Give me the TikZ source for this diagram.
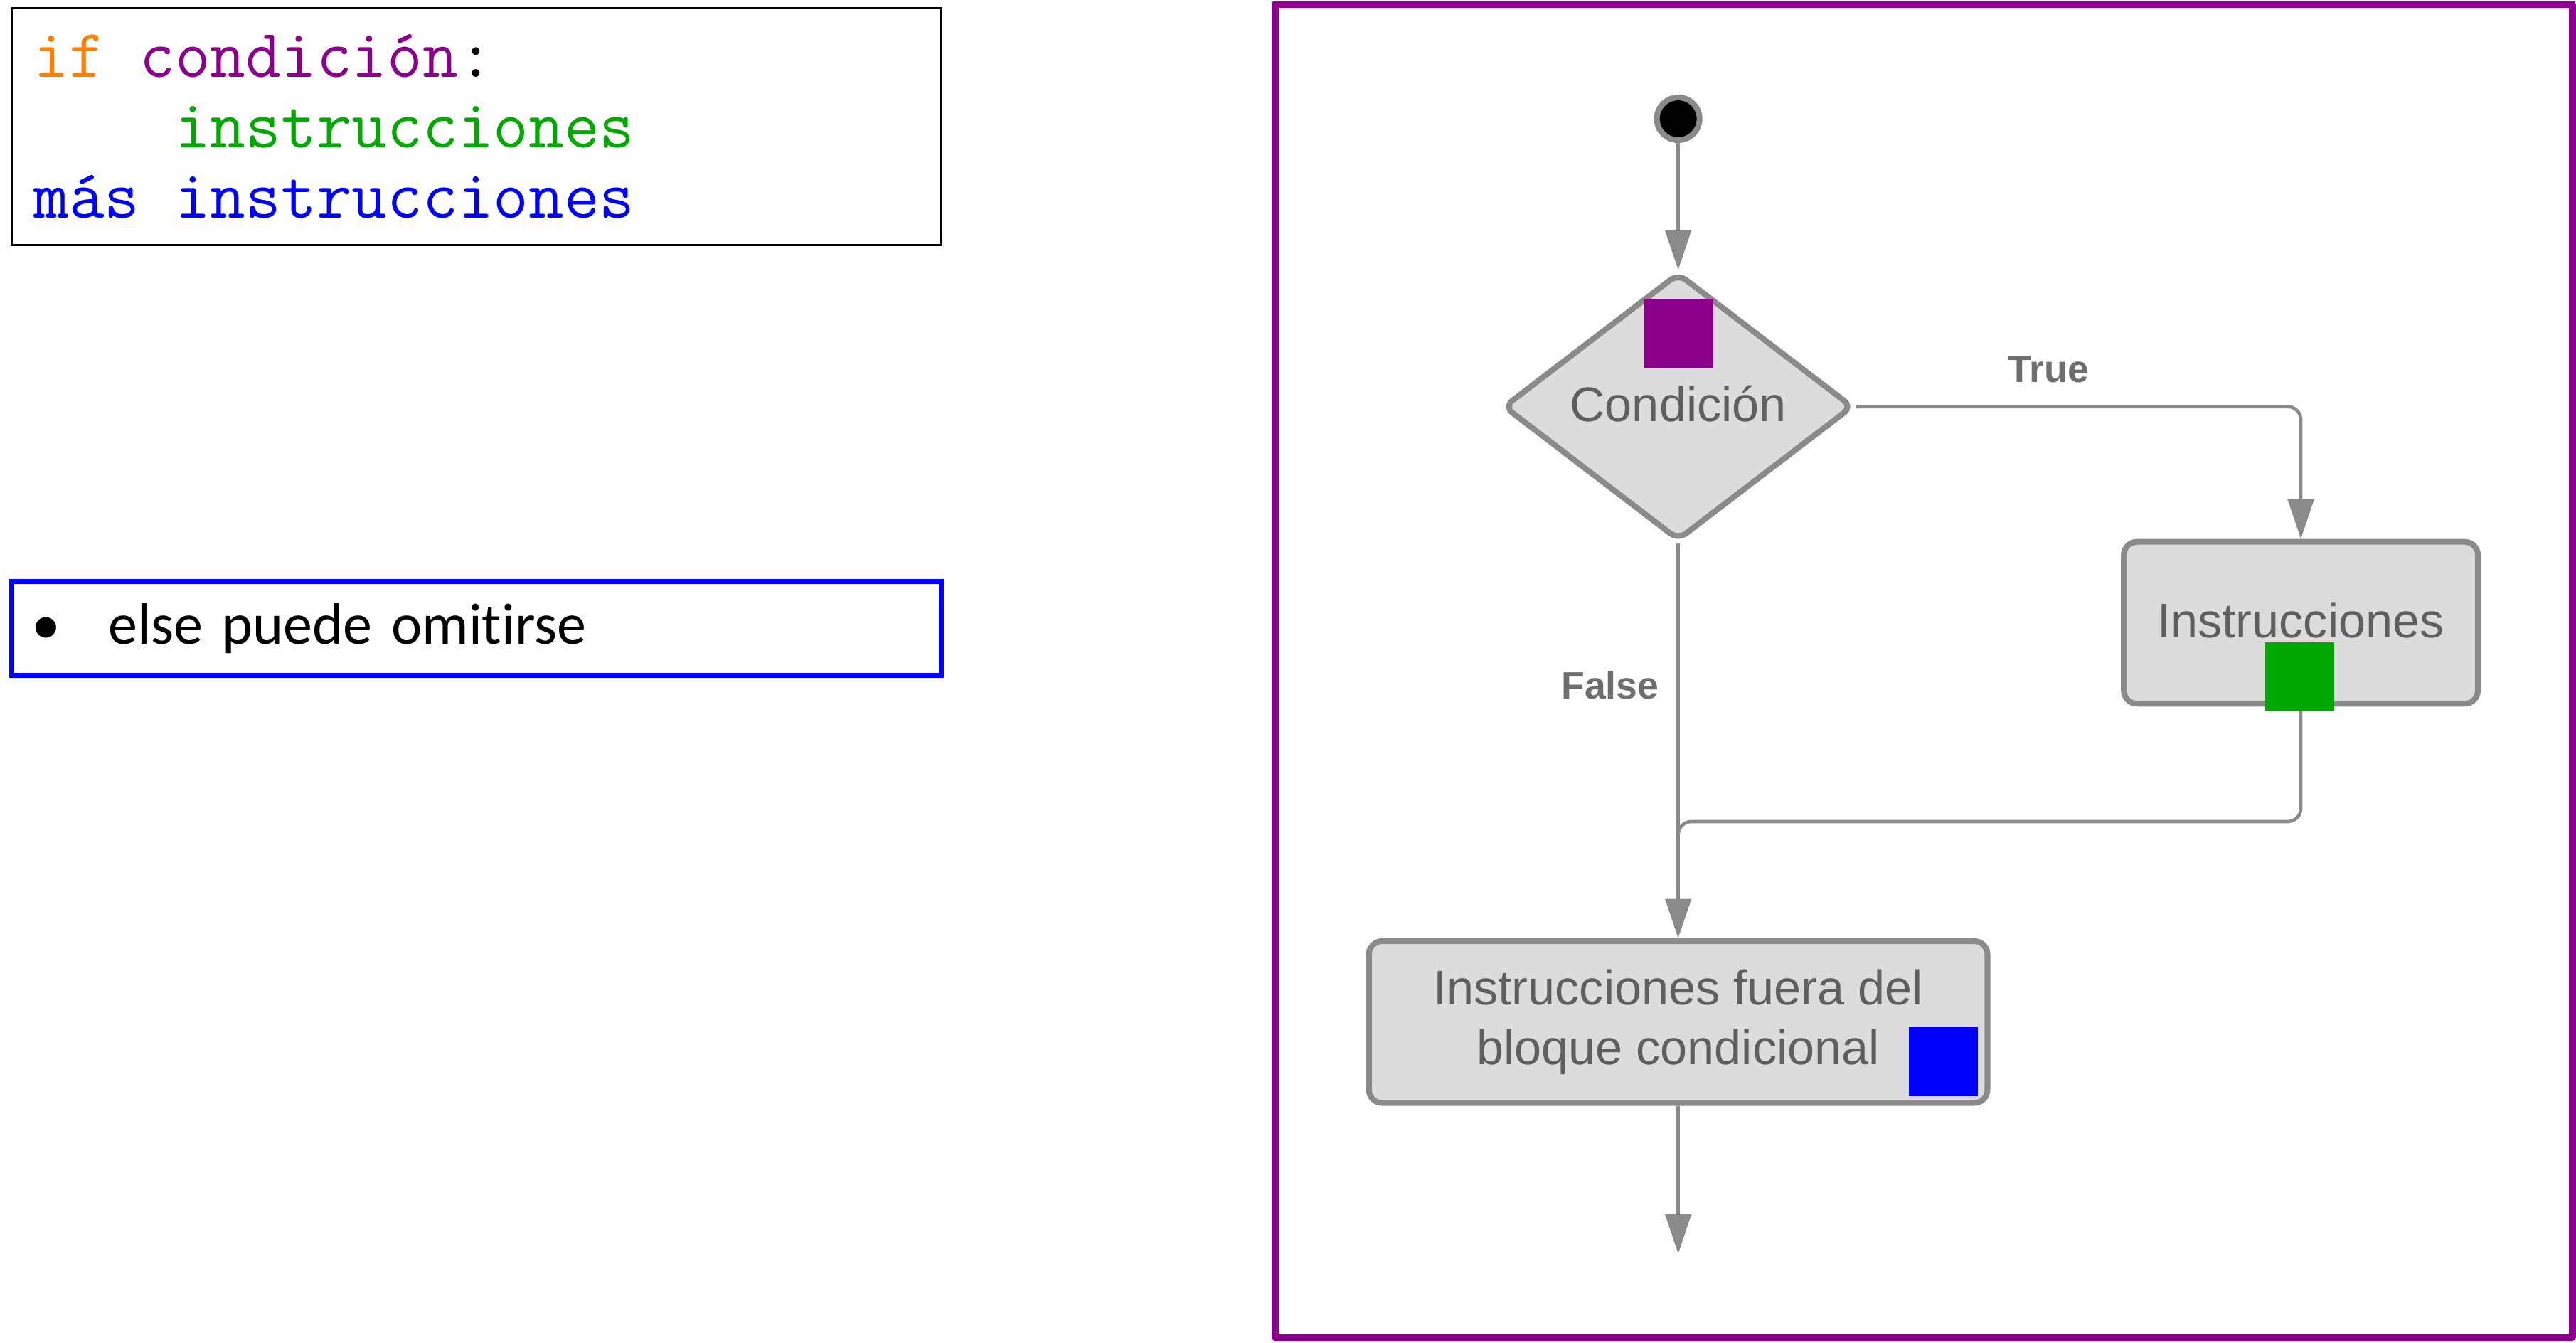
\documentclass[tikz,border=0pt]{standalone}
\usepackage{fontspec}
\setmainfont{Liberation Sans}
\newfontfamily\codigo{Latin Modern Mono}
\newfontfamily\nota[Ligatures = NoCommon]{Carlito}
\usetikzlibrary{shapes.geometric}
\usetikzlibrary{arrows.meta}
\usepackage{color}

\definecolor{morado}{HTML}{8B008B}
\definecolor{naranja}{HTML}{FF8000}
\definecolor{verde}{HTML}{00A800}
\definecolor{azul}{HTML}{0000FF}
\definecolor{gris}{HTML}{8A8A8A}
\definecolor{relleno}{HTML}{DCDCDC}
\definecolor{texto}{HTML}{5F5F5F}
\definecolor{textoet}{HTML}{6E6E6E}

\newcommand{\esp}{\hphantom{x}}

\tikzset{
    caja/.style = {rectangle, rounded corners = 4pt, draw = gris, fill = relleno, line width = 1.75pt, text = texto, align = center, font = \fontsize{14.8}{18}\selectfont},
    flecha/.style = {draw = gris, line width = 1pt, -{Triangle[length = 12pt, width = 7.8pt]}},
    linea/.style = {draw = gris, line width = 1pt},
    etiqueta/.style = {text = textoet, font = \bfseries\fontsize{11.6}{14}\selectfont},
    cuadro/.style = {rectangle, minimum size = 21pt, inner sep = 0pt}
}

\begin{document}
\begin{tikzpicture}[x = 0.5pt, y = -0.5pt]
            \useasboundingbox (0, 0) rectangle (1568, 817);

            \node (A) at (290, 77) [rectangle, draw = black, line width = 0.7pt, minimum height = 72pt, text width = 269.5pt, inner xsep = 6.75pt, align = left, font = \codigo\fontsize{20.9}{21.5}\selectfont]{{\color{naranja}if}\esp{\color{morado}condición}:\\ \esp\esp\esp\esp{\color{verde}instrucciones}\\ {\color{azul}más\esp instrucciones}};
            \node (B) at (290, 382.5) [rectangle, draw = azul, line width = 1.45pt, minimum height = 28.5pt, text width = 283pt, inner xsep = 0pt, align = left, font = \nota\fontsize{17.75}{21}\selectfont]{\hspace*{3.5pt}\makebox[14pt]{•}\hspace*{12pt}else puede omitirse};

            \draw[draw = morado, line width = 2.2pt, line join = round] (776.2, 2.6) rectangle (1565.8, 813.9);

            \node (S) at (1021.5, 72.3) [circle, draw = gris, fill = black, line width = 1.75pt, minimum size = 13pt, inner sep = 0pt]{};
            \node (C) at (1021.5, 247.5) [diamond, draw = gris, fill = relleno, line width = 1.75pt, rounded corners = 3pt, minimum width = 106.5pt, minimum height = 81.5pt, inner sep = 0pt, text = texto, font = \fontsize{14.8}{18}\selectfont]{\raisebox{2pt}{Condición}};
            \node (I) at (1400.5, 379) [caja, minimum width = 107.75pt, minimum height = 49.25pt]{\raisebox{1.5pt}{Instrucciones}};
            \node (E) at (1021.5, 622) [caja, minimum width = 188.25pt, minimum height = 49.25pt]{Instrucciones fuera del\\ bloque condicional};
            \node (T) at (1247, 225) [etiqueta]{True};
            \node (F) at (980, 417) [etiqueta]{False};
            \coordinate (J) at (1021.5, 500);
            \coordinate (M) at (1021.5, 540);
            \coordinate (Z) at (1021.5, 763);

            \draw[flecha] (S) -- (C);
            \draw[flecha, rounded corners = 4pt] (C.east) -| (I.north);
            \draw[flecha] (C.south) -- (E.north);
            \draw[linea, rounded corners = 4pt] (I.south) |- (J) -- (M);
            \draw[flecha] (E) -- (Z);

            \node (P) at (1022, 203) [cuadro, fill = morado]{};
            \node (G) at (1400, 412) [cuadro, fill = verde]{};
            \node (K) at (1183, 646) [cuadro, fill = azul]{};
        \end{tikzpicture}
\end{document}
